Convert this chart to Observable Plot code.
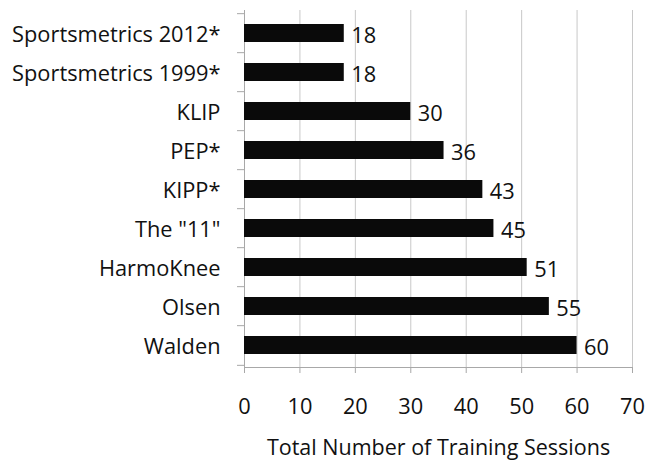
<!DOCTYPE html>
<html>
<head>
<meta charset="utf-8">
<script src="https://cdn.jsdelivr.net/npm/d3@7"></script>
<script src="https://cdn.jsdelivr.net/npm/@observablehq/plot@0.6"></script>
<style>
  html, body { margin: 0; padding: 0; background: #fff; }
  #chart svg { display: block; }
</style>
</head>
<body>
<div id="chart"></div>
<script>
const programs = ["Sportsmetrics 2012*", "Sportsmetrics 1999*", "KLIP", "PEP*", "KIPP*", "The \"11\"", "HarmoKnee", "Olsen", "Walden"];
const sessions = [18, 18, 30, 36, 43, 45, 51, 55, 60];
const xTicks = [0, 10, 20, 30, 40, 50, 60, 70];
const xLabel = "Total Number of Training Sessions";

const data = programs.map((p, i) => ({program: p, sessions: sessions[i]}));

const W = 657, H = 462;
const mTop = 10, mBottom = 95, mLeft = 244, mRight = 25;
const halfStep = (H - mTop - mBottom) / programs.length / 2;
const font = "'Open Sans', Lato, sans-serif";
const fs = 21.8;

const chart = Plot.plot({
  width: W,
  height: H,
  marginTop: mTop,
  marginBottom: mBottom,
  marginLeft: mLeft,
  marginRight: mRight,
  style: {fontFamily: font, fontSize: fs + "px", color: "#111", background: "#fff"},
  x: {domain: [0, 70], ticks: xTicks},
  y: {domain: programs, paddingInner: 0.55, paddingOuter: 0.275},
  marks: [
    Plot.gridX(xTicks.filter(d => d > 0), {stroke: "#c8c8c8", strokeOpacity: 1, strokeWidth: 1}),
    Plot.frame({anchor: "bottom", stroke: "#a8a8a8"}),
    Plot.frame({anchor: "left", stroke: "#a8a8a8"}),
    Plot.axisX({
      ticks: xTicks, tickSize: 6, tickPadding: 25, stroke: "#a8a8a8",
      fontSize: fs, fill: "#111",
      label: null
    }),
    Plot.axisX({
      ticks: [], tickSize: 0,
      fontSize: 21.5, fill: "#111",
      label: xLabel, labelAnchor: "center", labelArrow: "none", labelOffset: 87
    }),
    Plot.axisY({tickSize: 0, tickPadding: 24, fontSize: fs, fill: "#111", dy: 2, label: null}),
    Plot.axisY({tickSize: 7, tickFormat: () => "", dy: -halfStep, stroke: "#a8a8a8", label: null}),
    Plot.axisY({ticks: programs.slice(-1), tickSize: 7, tickFormat: () => "", dy: halfStep, stroke: "#a8a8a8", label: null}),
    Plot.barX(data, {x: "sessions", y: "program", fill: "#0a0a0a"}),
    Plot.text(data, {x: "sessions", y: "program", text: d => String(d.sessions), textAnchor: "start", dx: 7, dy: 3, fontSize: fs, fill: "#111"})
  ]
});
document.getElementById("chart").appendChild(chart);
</script>
</body>
</html>
